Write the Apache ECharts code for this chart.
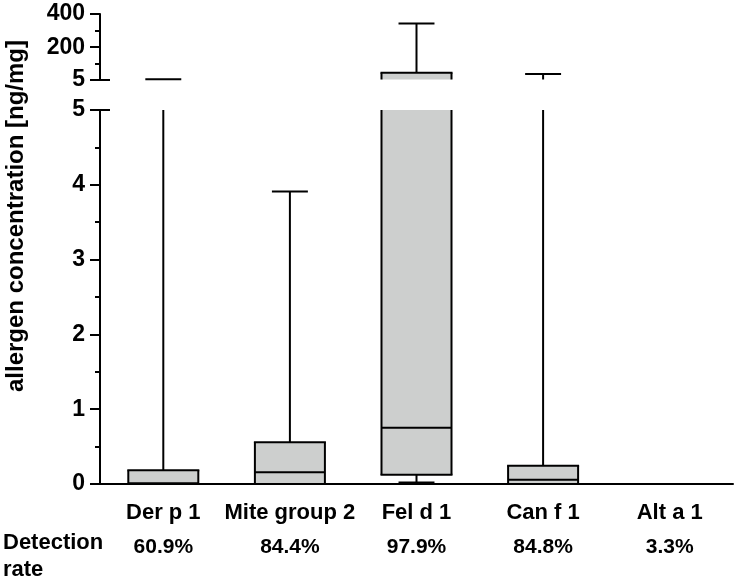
<!DOCTYPE html>
<html>
<head>
<meta charset="utf-8">
<script src="https://cdn.jsdelivr.net/npm/echarts@6/dist/echarts.min.js"></script>
<style>
html,body{margin:0;padding:0;background:#fff;}
#chart{width:735px;height:583px;}
</style>
</head>
<body>
<div id="chart"></div>
<script>
// ---- data ----
var categories = ['Der p 1', 'Mite group 2', 'Fel d 1', 'Can f 1', 'Alt a 1'];
var minVals    = [0,     0,     0.02,  0,     0];
var q1Vals     = [0,     0,     0.125, 0,     0];
var medianVals = [0.01,  0.156, 0.753, 0.058, 0];
var q3Vals     = [0.183, 0.557, 46,    0.245, 0];
var maxVals    = [7,     3.91,  343,   38,    0];
var detectionRates = ['60.9%', '84.4%', '97.9%', '84.8%', '3.3%'];
var upperTicks = [5, 200, 400];
var upperMinorTicks = [100, 300];
var upperRange = [5, 400];
var lowerRange = [0, 5];

var FONT = '"Liberation Sans", Arial, sans-serif';
var INK = '#000';
var FILL = '#cdcfce';

var boxData = categories.map(function (c, i) {
  return [i, minVals[i], q1Vals[i], medianVals[i], q3Vals[i], maxVals[i]];
});

function makeRender(range) {
  var lo = range[0], hi = range[1];
  return function (params, api) {
    var idx = api.value(0);
    var vMin = api.value(1), vQ1 = api.value(2), vMed = api.value(3), vQ3 = api.value(4), vMax = api.value(5);
    var band = api.size([1, 0])[0];
    var halfBox = band * 0.553 / 2;
    var halfCap = band * 0.284 / 2;
    var cx = api.coord([idx, lo])[0];
    function cy(v) { return api.coord([idx, Math.max(lo, Math.min(hi, v))])[1]; }
    function inR(v) { return v >= lo && v <= hi; }
    function overlaps(a, b) { return !(b < lo || a > hi); }
    var ls = { stroke: INK, lineWidth: 2 };
    var children = [];
    function line(x1, y1, x2, y2) {
      children.push({ type: 'line', shape: { x1: x1, y1: y1, x2: x2, y2: y2 }, style: ls });
    }
    if (overlaps(vQ1, vQ3)) {
      var yT = cy(vQ3), yB = cy(vQ1);
      children.push({ type: 'rect', shape: { x: cx - halfBox, y: yT, width: halfBox * 2, height: yB - yT }, style: { fill: FILL } });
      line(cx - halfBox, yT, cx - halfBox, yB);
      line(cx + halfBox, yT, cx + halfBox, yB);
      if (inR(vQ3)) line(cx - halfBox - 1, yT, cx + halfBox + 1, yT);
      if (inR(vQ1)) line(cx - halfBox - 1, yB, cx + halfBox + 1, yB);
    }
    if (inR(vMed)) line(cx - halfBox, cy(vMed), cx + halfBox, cy(vMed));
    if (vMax > vQ3 && overlaps(vQ3, vMax)) {
      line(cx, cy(vQ3), cx, cy(vMax));
    }
    if (inR(vMax) && vMax > vQ3) line(cx - halfCap, cy(vMax), cx + halfCap, cy(vMax));
    if (vMin < vQ1 && overlaps(vMin, vQ1)) {
      line(cx, cy(vQ1), cx, cy(vMin));
      if (inR(vMin)) line(cx - halfCap, cy(vMin), cx + halfCap, cy(vMin));
    }
    return { type: 'group', children: children };
  };
}

var labelStyle = { color: INK, fontFamily: FONT, fontWeight: 'bold', fontSize: 22 };
var axisLineStyle = { show: true, lineStyle: { color: INK, width: 2 } };

var option = {
  animation: false,
  backgroundColor: '#fff',
  grid: [
    { left: 100, right: 2, top: 14, height: 65.5 },
    { left: 100, right: 2, top: 110, height: 374 }
  ],
  xAxis: [
    { gridIndex: 0, type: 'category', data: categories, show: false },
    { gridIndex: 1, type: 'category', data: categories, position: 'bottom',
      axisLine: axisLineStyle, axisTick: { show: false }, splitLine: { show: false },
      axisLabel: Object.assign({ margin: 18, interval: 0 }, labelStyle) },
    { gridIndex: 1, type: 'category', data: detectionRates, position: 'bottom', offset: 35,
      axisLine: { show: false }, axisTick: { show: false }, splitLine: { show: false },
      axisLabel: Object.assign({ margin: 18, interval: 0 }, labelStyle, { fontSize: 21 }) }
  ],
  yAxis: [
    { gridIndex: 0, type: 'value', position: 'left', min: upperRange[0], max: upperRange[1],
      axisLine: axisLineStyle, splitLine: { show: false },
      axisTick: { show: true, length: 10, customValues: upperTicks, lineStyle: { color: INK, width: 2 } },
      axisLabel: Object.assign({ margin: 15, customValues: upperTicks }, labelStyle, { fontSize: 23 }) },
    { gridIndex: 0, type: 'value', position: 'left', min: upperRange[0], max: upperRange[1],
      axisLine: { show: false }, splitLine: { show: false }, axisLabel: { show: false },
      axisTick: { show: true, length: 5, customValues: upperMinorTicks, lineStyle: { color: INK, width: 2 } } },
    { gridIndex: 0, type: 'value', position: 'left', min: upperRange[0], max: upperRange[1],
      axisLine: { show: false }, splitLine: { show: false }, axisLabel: { show: false },
      axisTick: { show: true, inside: true, length: 10, customValues: [upperRange[0]], lineStyle: { color: INK, width: 2 } } },
    { gridIndex: 1, type: 'value', position: 'left', min: lowerRange[0], max: lowerRange[1], interval: 1,
      axisLine: axisLineStyle, splitLine: { show: false },
      axisTick: { show: true, length: 10, lineStyle: { color: INK, width: 2 } },
      minorTick: { show: true, splitNumber: 2, length: 5, lineStyle: { color: INK, width: 2 } },
      axisLabel: Object.assign({ margin: 15 }, labelStyle, { fontSize: 23 }) },
    { gridIndex: 1, type: 'value', position: 'left', min: lowerRange[0], max: lowerRange[1],
      axisLine: { show: false }, splitLine: { show: false }, axisLabel: { show: false },
      axisTick: { show: true, inside: true, length: 10, customValues: [lowerRange[1]], lineStyle: { color: INK, width: 2 } } }
  ],
  series: [
    { type: 'custom', xAxisIndex: 0, yAxisIndex: 0, data: boxData, renderItem: makeRender(upperRange), clip: false, z: 5 },
    { type: 'custom', xAxisIndex: 1, yAxisIndex: 3, data: boxData, renderItem: makeRender(lowerRange), clip: false, z: 1 }
  ],
  graphic: [
    { type: 'text', x: 16, y: 216, rotation: Math.PI / 2,
      style: { text: 'allergen concentration [ng/mg]', fill: INK, font: 'bold 24px ' + FONT, align: 'center', verticalAlign: 'middle' } },
    { type: 'text', x: 3, y: 543,
      style: { text: 'Detection', fill: INK, font: 'bold 22px ' + FONT, align: 'left', verticalAlign: 'middle' } },
    { type: 'text', x: 3, y: 570,
      style: { text: 'rate', fill: INK, font: 'bold 22px ' + FONT, align: 'left', verticalAlign: 'middle' } }
  ]
};

var chart = echarts.init(document.getElementById('chart'), null, { renderer: 'canvas' });
chart.setOption(option);
</script>
</body>
</html>
